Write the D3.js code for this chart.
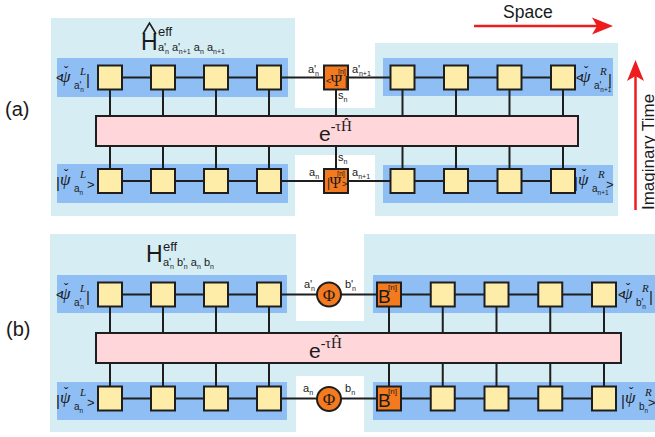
<!DOCTYPE html>
<html><head><meta charset="utf-8">
<script src="https://cdn.jsdelivr.net/npm/d3@7"></script>
<style>
body{margin:0;background:#fff}
svg{display:block}
text{font-family:"Liberation Sans",Arial,sans-serif;fill:#1a1a1a}
.serif{font-family:"Liberation Serif","Times New Roman",serif}
</style>
</head><body>
<script>
// ---------- data ----------
const panelLabels = ["(a)", "(b)"];
const leftSites = ["L1", "L2", "L3", "L4"];
const rightSitesA = ["R1", "R2", "R3", "R4"];
const rightSitesB = ["B", "R1", "R2", "R3", "R4"];
const rowKinds = ["bra", "ket"];
const axisLabels = ["Space", "Imaginary Time"];

// ---------- style ----------
const C = {panel:"#d6edf3", band:"#8fbef4", site:"#feeca9", orange:"#f47a20",
           bar:"#ffd6da", stroke:"#1e1e1e", red:"#ee1c1c"};
const SQ = 24;

const svg = d3.select("body").append("svg").attr("width", 655).attr("height", 437);

// scales
const xL  = d3.scalePoint().domain(leftSites).range([110, 269]);
const xRA = d3.scalePoint().domain(rightSitesA).range([402.5, 563]);
const xRB = d3.scalePoint().domain(rightSitesB).range([389, 604]);
const yRowA = d3.scalePoint().domain(rowKinds).range([77.5, 181]);
const yRowB = d3.scalePoint().domain(rowKinds).range([294.5, 398.5]);

function rect(g, x, y, w, h, fill, stroke, sw){
  return g.append("rect").attr("x", x).attr("y", y).attr("width", w).attr("height", h)
    .attr("fill", fill).attr("stroke", stroke || "none").attr("stroke-width", sw || 0);
}
function line(g, x1, y1, x2, y2, sw){
  return g.append("line").attr("x1", x1).attr("y1", y1).attr("x2", x2).attr("y2", y2)
    .attr("stroke", C.stroke).attr("stroke-width", sw || 2);
}
function rich(g, x, y, parts, cls){
  const t = g.append("text").attr("x", x).attr("y", y);
  if (cls) t.attr("class", cls);
  let cur = 0;
  parts.forEach(p => {
    const ts = t.append("tspan").attr("dy", p[1] - cur).attr("font-size", p[2]).text(p[0]);
    if (p[3]) Object.entries(p[3]).forEach(([k, v]) => ts.attr(k, v));
    cur = p[1];
  });
  return t;
}
function txt(g, x, y, s, fs, cls, anchor){
  const t = g.append("text").attr("x", x).attr("y", y).attr("font-size", fs).text(s);
  if (cls) t.attr("class", cls);
  if (anchor) t.attr("text-anchor", anchor);
  return t;
}
function braket(g, x, yb, kind, sup, subParts, closeDx){
  const bra = kind === "bra";
  if (bra) txt(g, x, yb - 1, "<", 12);
  else txt(g, x, yb + 2, "|", 15);
  txt(g, x + 4, yb - 1, "ψ", 17, "serif").attr("font-style", "italic");
  txt(g, x + 8, yb - 7, "ˇ", 13);
  txt(g, x + 24, yb - 8, sup, 11, "serif").attr("font-style", "italic");
  rich(g, x + 18, yb + 6, subParts);
  if (bra) txt(g, x + (closeDx || 30), yb + 2, "|", 15);
  else txt(g, x + (closeDx || 31), yb + 3, ">", 13);
  return g;
}
function sub(base, prime, idx, fs){
  const p = [[base + (prime ? "'" : ""), 0, fs]];
  p.push([idx, fs * 0.3, fs * 0.65, prime ? {dx: -fs * 0.12} : null]);
  return p;
}
function drawRowLines(g, xs, yTop, yBot, barTop, barBot){
  xs.forEach(x => {
    line(g, x, yTop + SQ/2, x, barTop);
    line(g, x, barBot, x, yBot - SQ/2);
  });
}
function sites(g, xs, y, fill){
  xs.forEach(x => rect(g, x - SQ/2, y - SQ/2, SQ, SQ, fill, C.stroke, 2));
}

// ================= panel (a) =================
{
  const g = svg.append("g");
  const yT = yRowA("bra"), yB = yRowA("ket");
  const barTop = 116, barBot = 146;
  rect(g, 51, 18, 244, 198, C.panel);
  rect(g, 375, 43, 243, 173, C.panel);
  rect(g, 295, 108, 80, 47, C.panel);
  rect(g, 57, 58, 231, 39, C.band);
  rect(g, 57, 164, 231, 39, C.band);
  rect(g, 383, 58, 230, 38, C.band);
  rect(g, 383, 165, 230, 38, C.band);
  line(g, xL(leftSites[0]), yT, xRA(rightSitesA[3]), yT);
  line(g, xL(leftSites[0]), yB, xRA(rightSitesA[3]), yB);
  const xs = leftSites.map(xL).concat(rightSitesA.map(xRA));
  const xPsi = 336;
  drawRowLines(g, xs.concat([xPsi]), yT, yB, barTop, barBot);
  rect(g, 96, barTop, 482, barBot - barTop, C.bar, C.stroke, 2);
  rich(g, 319, 141, [["e", 0, 21], ["-τ", -10, 14, {class: "serif"}], ["Ĥ", -10, 15, {class: "serif"}]]);
  sites(g, leftSites.map(xL), yT, C.site);
  sites(g, leftSites.map(xL), yB, C.site);
  sites(g, rightSitesA.map(xRA), yT, C.site);
  sites(g, rightSitesA.map(xRA), yB, C.site);
  sites(g, [xPsi], yT, C.orange);
  sites(g, [xPsi], yB, C.orange);
  txt(g, 326, yT + 6, "<", 9);
  txt(g, 336.5, yT + 8, "Ψ", 16, "serif", "middle");
  txt(g, 338, yT - 4, "[n]", 7);
  txt(g, 344.5, yT + 7, "|", 13);
  txt(g, 327, yB + 6, "|", 12);
  txt(g, 335.5, yB + 7, "Ψ", 16, "serif", "middle");
  txt(g, 337, yB - 5, "[n]", 7);
  txt(g, 342, yB + 6, ">", 9);
  rich(g, 308, 73, sub("a", true, "n", 11));
  rich(g, 352, 73, sub("a", true, "n+1", 11));
  rich(g, 338, 99, sub("s", false, "n", 11));
  rich(g, 338, 161, sub("s", false, "n", 11));
  rich(g, 309, 176, sub("a", false, "n", 11));
  rich(g, 352, 176, sub("a", false, "n+1", 11));
  braket(g, 56, 83, "bra", "L", sub("a", true, "n", 10));
  braket(g, 56, 186, "ket", "L", sub("a", false, "n", 10));
  braket(g, 576, 83, "bra", "R", sub("a", true, "n+1", 10), 32);
  braket(g, 574, 186, "ket", "R", sub("a", false, "n+1", 10), 32);
  txt(g, 141, 50, "H", 23);
  g.append("path").attr("d", "M143,34 L149.5,23 L156,34").attr("fill", "none")
    .attr("stroke", C.stroke).attr("stroke-width", 1.6);
  txt(g, 158, 36, "eff", 13);
  rich(g, 158, 51, [].concat(sub("a", true, "n", 11), [[" a'", 0, 11]], [["n+1", 3.3, 7, {dx: -1.3}]],
    [[" a", 0, 11]], [["n", 3.3, 7]], [[" a", 0, 11]], [["n+1", 3.3, 7]]));
  txt(g, 5, 116, panelLabels[0], 20);
}

// ================= panel (b) =================
{
  const g = svg.append("g");
  const yT = yRowB("bra"), yB = yRowB("ket");
  const barTop = 333, barBot = 363;
  rect(g, 50, 234, 246, 198, C.panel);
  rect(g, 364, 234, 291, 198, C.panel);
  rect(g, 296, 321, 68, 55, C.panel);
  rect(g, 57, 275, 230, 38, C.band);
  rect(g, 57, 382, 230, 38, C.band);
  rect(g, 373, 275, 282, 38, C.band);
  rect(g, 373, 382, 282, 38, C.band);
  line(g, xL(leftSites[0]), yT, xRB(rightSitesB[4]), yT);
  line(g, xL(leftSites[0]), yB, xRB(rightSitesB[4]), yB);
  const xs = leftSites.map(xL).concat(rightSitesB.map(xRB));
  drawRowLines(g, xs, yT, yB, barTop, barBot);
  rect(g, 96, barTop, 525, barBot - barTop, C.bar, C.stroke, 2);
  rich(g, 309, 358, [["e", 0, 21], ["-τ", -10, 14, {class: "serif"}], ["Ĥ", -10, 15, {class: "serif"}]]);
  sites(g, leftSites.map(xL), yT, C.site);
  sites(g, leftSites.map(xL), yB, C.site);
  sites(g, rightSitesB.slice(1).map(xRB), yT, C.site);
  sites(g, rightSitesB.slice(1).map(xRB), yB, C.site);
  sites(g, [xRB("B")], yT, C.orange);
  sites(g, [xRB("B")], yB, C.orange);
  [yT, yB].forEach(y => {
    txt(g, 378, y + 8.5, "B", 19);
    txt(g, 388, y - 5, "[n]", 8);
  });
  const xPhi = 329;
  [yT, yB + 0.5].forEach(y => {
    g.append("circle").attr("cx", xPhi).attr("cy", y).attr("r", 12)
      .attr("fill", C.orange).attr("stroke", C.stroke).attr("stroke-width", 2);
    txt(g, xPhi, y + 6, "Φ", 17, "serif", "middle");
  });
  rich(g, 304, 288, sub("a", true, "n", 11));
  rich(g, 345, 288, sub("b", true, "n", 11));
  rich(g, 303, 392, sub("a", false, "n", 11));
  rich(g, 345, 392, sub("b", false, "n", 11));
  braket(g, 56, 300, "bra", "L", sub("a", true, "n", 10));
  braket(g, 56, 404, "ket", "L", sub("a", false, "n", 10));
  braket(g, 618, 300, "bra", "R", sub("b", true, "n", 10), 31);
  braket(g, 621, 404, "ket", "R", sub("b", false, "n", 10), 27);
  txt(g, 146, 262, "H", 23);
  txt(g, 163, 251, "eff", 13);
  rich(g, 163, 266, [].concat(sub("a", true, "n", 11), [[" b'", 0, 11]], [["n", 3.3, 7, {dx: -1.3}]],
    [[" a", 0, 11]], [["n", 3.3, 7]], [[" b", 0, 11]], [["n", 3.3, 7]]));
  txt(g, 6, 336, panelLabels[1], 20);
}

// ================= axes arrows =================
{
  const g = svg.append("g");
  g.append("line").attr("x1", 474).attr("y1", 26).attr("x2", 600).attr("y2", 26)
    .attr("stroke", C.red).attr("stroke-width", 2.5);
  g.append("path").attr("d", "M613,26 L592,17.5 L597,26 L592,34.5 Z").attr("fill", C.red);
  txt(g, 503, 18, axisLabels[0], 17.5);
  g.append("line").attr("x1", 635.5).attr("y1", 210).attr("x2", 635.5).attr("y2", 75)
    .attr("stroke", C.red).attr("stroke-width", 2.5);
  g.append("path").attr("d", "M635.5,60 L627,81 L635.5,76 L644,81 Z").attr("fill", C.red);
  txt(g, 0, 0, axisLabels[1], 17, null, "middle")
    .attr("transform", "translate(654,152) rotate(-90)");
}
</script>
</body></html>
